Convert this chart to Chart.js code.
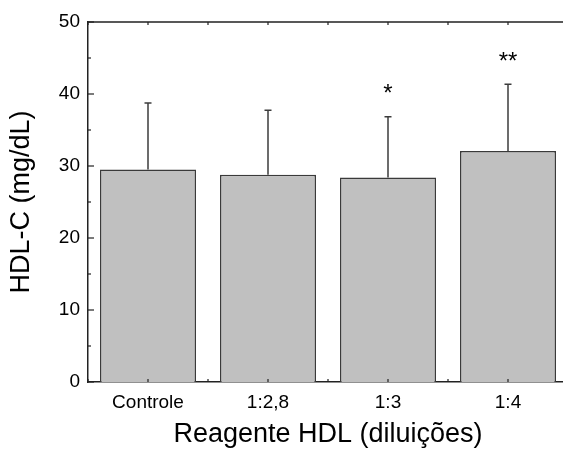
<!DOCTYPE html>
<html>
<head>
<meta charset="utf-8">
<script src="https://cdn.jsdelivr.net/npm/chart.js@4.4.1/dist/chart.umd.min.js"></script>
<style>
  html, body { margin: 0; padding: 0; background: #fff; overflow: hidden; }
  #wrap { width: 570px; height: 453px; }
</style>
</head>
<body>
<div id="wrap"><canvas id="c" width="570" height="453"></canvas></div>
<script>
// HDL-C by reagent dilution: mean with upper standard deviation
const categories = ['Controle', '1:2,8', '1:3', '1:4'];
const meanHDL = [29.5, 28.8, 28.4, 32.1];
const sdHDL = [9.25, 8.95, 8.45, 9.25];
const significance = ['', '', '*', '**'];
const yTicks = [0, 10, 20, 30, 40, 50];

const FONT = '"Liberation Sans", Arial, sans-serif';

// Error bars, inward axis ticks, the closing frame and significance marks
const decorations = {
  id: 'decorations',
  afterDatasetsDraw(chart) {
    const ctx = chart.ctx;
    const x = chart.scales.x, y = chart.scales.y;
    const area = chart.chartArea;
    ctx.save();

    // upper error bars
    ctx.strokeStyle = '#3c3c3c';
    ctx.lineWidth = 1.5;
    meanHDL.forEach((m, i) => {
      const px = x.getPixelForValue(i);
      const y0 = y.getPixelForValue(m);
      const y1 = y.getPixelForValue(m + sdHDL[i]);
      ctx.beginPath();
      ctx.moveTo(px, y0);
      ctx.lineTo(px, y1);
      ctx.moveTo(px - 3.5, y1);
      ctx.lineTo(px + 3.5, y1);
      ctx.stroke();
    });

    // significance asterisks above the error bars
    ctx.fillStyle = '#000';
    ctx.font = '24px ' + FONT;
    ctx.textAlign = 'center';
    ctx.textBaseline = 'middle';
    significance.forEach((s, i) => {
      if (!s) return;
      const px = x.getPixelForValue(i);
      const top = y.getPixelForValue(meanHDL[i] + sdHDL[i]);
      ctx.fillText(s, px, top - 22);
    });

    // frame: top and right edges
    ctx.strokeStyle = '#222';
    ctx.lineWidth = 1.5;
    ctx.beginPath();
    ctx.moveTo(area.left, area.top);
    ctx.lineTo(area.right, area.top);
    ctx.lineTo(area.right, area.bottom);
    ctx.stroke();

    // inward ticks on the value axis (major and minor)
    ctx.lineWidth = 1.2;
    for (let v = 0; v <= 50; v += 5) {
      const py = y.getPixelForValue(v);
      const len = v % 10 === 0 ? 6 : 3;
      ctx.beginPath();
      ctx.moveTo(area.left, py);
      ctx.lineTo(area.left + len, py);
      ctx.stroke();
    }

    // inward ticks on bottom and top edges at centres and boundaries
    for (let k = -0.5; k <= categories.length - 0.5; k += 0.5) {
      const px = x.getPixelForValue(k);
      ctx.beginPath();
      ctx.moveTo(px, area.bottom);
      ctx.lineTo(px, area.bottom - 3);
      ctx.moveTo(px, area.top);
      ctx.lineTo(px, area.top + 3);
      ctx.stroke();
    }
    ctx.restore();
  }
};

new Chart(document.getElementById('c'), {
  type: 'bar',
  data: {
    labels: categories,
    datasets: [{
      data: meanHDL,
      backgroundColor: '#c0c0c0',
      borderColor: '#3a3a3a',
      borderWidth: 1.5,
      borderSkipped: 'bottom',
      barPercentage: 0.8,
      categoryPercentage: 1.0
    }]
  },
  options: {
    responsive: false,
    animation: false,
    devicePixelRatio: 1,
    layout: { padding: { top: 22, right: 2, left: 0, bottom: 0 } },
    plugins: { legend: { display: false }, tooltip: { enabled: false } },
    scales: {
      x: {
        grid: { display: false, drawTicks: false },
        border: { display: true, color: '#222', width: 1.5 },
        ticks: { color: '#000', font: { family: FONT, size: 19 }, padding: 9, maxRotation: 0 },
        title: {
          display: true,
          text: 'Reagente HDL (diluições)',
          color: '#000',
          font: { family: FONT, size: 27 },
          padding: { top: 0, bottom: 2 }
        },
        afterFit(scale) { scale.height = 71; }
      },
      y: {
        min: 0,
        max: 50,
        afterBuildTicks(scale) { scale.ticks = yTicks.map(v => ({ value: v })); },
        grid: { display: false, drawTicks: false },
        border: { display: true, color: '#222', width: 1.5 },
        ticks: { color: '#000', font: { family: FONT, size: 19 }, padding: 8 },
        title: {
          display: true,
          text: 'HDL-C (mg/dL)',
          color: '#000',
          font: { family: FONT, size: 27 },
          padding: { top: 5, bottom: 0 }
        },
        afterFit(scale) { scale.width = 88; }
      }
    }
  },
  plugins: [decorations]
});
</script>
</body>
</html>
